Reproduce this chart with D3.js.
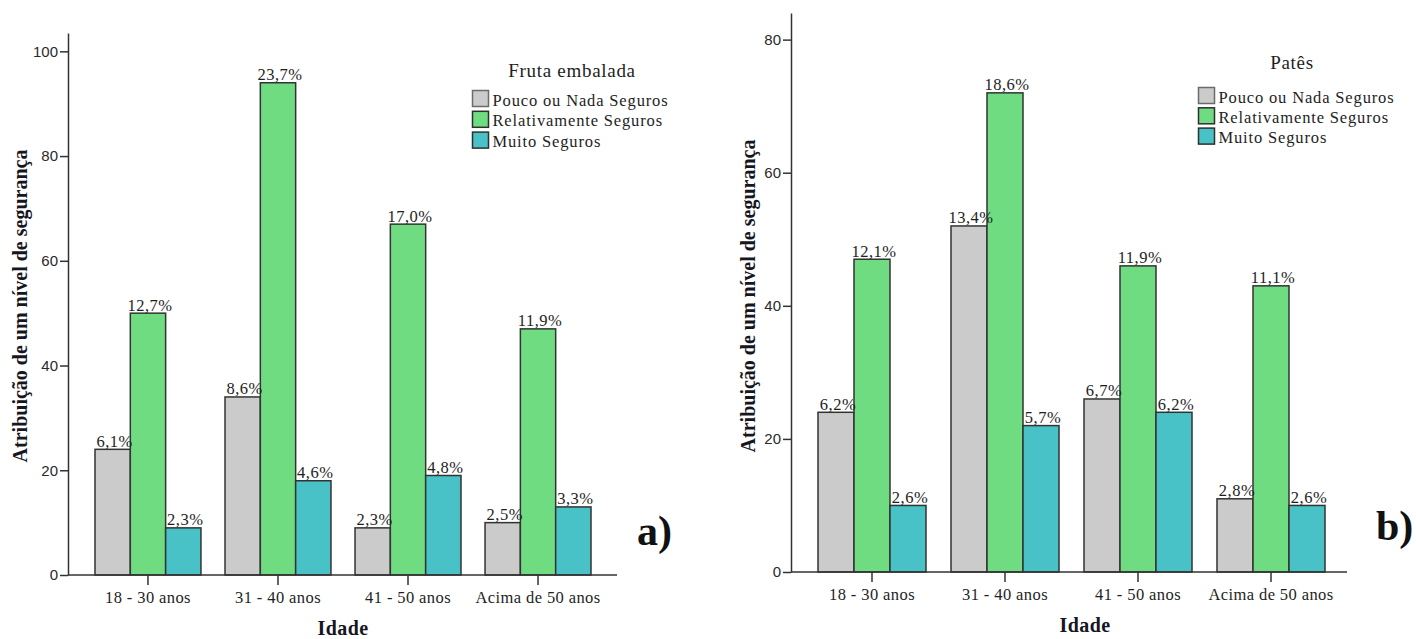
<!DOCTYPE html>
<html>
<head>
<meta charset="utf-8">
<script src="https://cdn.jsdelivr.net/npm/d3@7"></script>
<style>
  html, body { margin: 0; padding: 0; background: #fff; }
  svg { display: block; }
  .tick text { font-family: "Liberation Sans", Arial, sans-serif; }
</style>
</head>
<body>
<svg id="chart" width="1416" height="639"></svg>
<script>
// Age groups and safety levels shared by both panels
const ageGroups = ["18 - 30 anos", "31 - 40 anos", "41 - 50 anos", "Acima de 50 anos"];
const safetyLevels = ["Pouco ou Nada Seguros", "Relativamente Seguros", "Muito Seguros"];
const levelColors = ["#cbcbcb", "#6fdc81", "#48c2c6"];
const swatchStrokes = ["#6b6b6b", "#2f2f2f", "#2f2f2f"];

// Panel a) Fruta embalada: counts per age group
const frutaPouco = [24, 34, 9, 10];
const frutaRelativamente = [50, 94, 67, 47];
const frutaMuito = [9, 18, 19, 13];
const frutaPercentPouco = ["6,1%", "8,6%", "2,3%", "2,5%"];
const frutaPercentRelativamente = ["12,7%", "23,7%", "17,0%", "11,9%"];
const frutaPercentMuito = ["2,3%", "4,6%", "4,8%", "3,3%"];
const frutaTicks = [0, 20, 40, 60, 80, 100];

// Panel b) Patês: counts per age group
const patesPouco = [24, 52, 26, 11];
const patesRelativamente = [47, 72, 46, 43];
const patesMuito = [10, 22, 24, 10];
const patesPercentPouco = ["6,2%", "13,4%", "6,7%", "2,8%"];
const patesPercentRelativamente = ["12,1%", "18,6%", "11,9%", "11,1%"];
const patesPercentMuito = ["2,6%", "5,7%", "6,2%", "2,6%"];
const patesTicks = [0, 20, 40, 60, 80];

const yTitle = "Atribuição de um nível de segurança";
const xTitle = "Idade";

const svg = d3.select("#chart");
const serif = "'Liberation Serif', 'Times New Roman', serif";

function drawPanel(cfg) {
  const g = svg.append("g");
  const series = [cfg.pouco, cfg.relativamente, cfg.muito];
  const labels = [cfg.pctPouco, cfg.pctRelativamente, cfg.pctMuito];

  const y = d3.scaleLinear().domain([0, cfg.yMax]).range([cfg.yBottom, cfg.yTop]);
  const x0 = d3.scaleBand().domain(ageGroups).range(cfg.groupRange).paddingInner(cfg.padInner).paddingOuter(0);
  const x1 = d3.scaleBand().domain(safetyLevels).range([0, x0.bandwidth()]).padding(0);

  // bars
  const rows = ageGroups.map((a, i) => ({ age: a, i }));
  const grp = g.selectAll("g.age").data(rows).join("g")
    .attr("class", "age")
    .attr("transform", d => `translate(${x0(d.age)},0)`);

  grp.selectAll("rect").data(d => safetyLevels.map((s, k) => ({ s, k, v: series[k][d.i] })))
    .join("rect")
    .attr("x", d => x1(d.s))
    .attr("width", x1.bandwidth())
    .attr("y", d => y(d.v))
    .attr("height", d => y(0) - y(d.v))
    .attr("fill", d => levelColors[d.k])
    .attr("stroke", "#333")
    .attr("stroke-width", 1.5);

  grp.selectAll("text.pct").data(d => safetyLevels.map((s, k) => ({ s, k, v: series[k][d.i], t: labels[k][d.i] })))
    .join("text")
    .attr("class", "pct")
    .attr("x", d => x1(d.s) + x1.bandwidth() / 2 + 2)
    .attr("y", d => y(d.v) - 2.5)
    .attr("text-anchor", "middle")
    .style("font-family", serif)
    .style("font-size", "16.5px")
    .style("letter-spacing", "0.5px")
    .attr("fill", "#1e1e1e")
    .text(d => d.t);

  // y axis
  const yAxis = d3.axisLeft(y).tickValues(cfg.ticks).tickSize(8).tickPadding(2).tickSizeOuter(0);
  const ya = g.append("g").attr("transform", `translate(${cfg.plotLeft},0)`).call(yAxis);
  ya.select(".domain").attr("stroke", "#333").attr("stroke-width", 1.5);
  ya.selectAll(".tick line").attr("stroke", "#333").attr("stroke-width", 1.5);
  ya.selectAll(".tick text").style("font-size", "15px").attr("fill", "#2a2a2a");

  // x axis (baseline spans the full plot width)
  const xa = g.append("g").attr("transform", `translate(0,${y(0)})`)
    .call(d3.axisBottom(x0).tickSize(10).tickPadding(6).tickSizeOuter(0));
  xa.select(".domain").attr("d", `M${cfg.plotLeft},0H${cfg.plotRight}`)
    .attr("stroke", "#333").attr("stroke-width", 1.5);
  xa.selectAll(".tick line").attr("stroke", "#333").attr("stroke-width", 1.5);
  xa.selectAll(".tick text")
    .style("font-family", serif)
    .style("font-size", "16.5px")
    .style("letter-spacing", "0.4px")
    .attr("fill", "#1e1e1e");

  // axis titles
  g.append("text")
    .attr("transform", `translate(${cfg.yTitleX},${cfg.yTitleY}) rotate(-90)`)
    .attr("text-anchor", "middle")
    .style("font-family", serif).style("font-weight", "bold").style("font-size", "20px")
    .attr("fill", "#161622")
    .text(yTitle);
  g.append("text")
    .attr("x", cfg.xTitleX).attr("y", cfg.xTitleY)
    .attr("text-anchor", "middle")
    .style("font-family", serif).style("font-weight", "bold").style("font-size", "20px")
    .style("letter-spacing", "0.4px")
    .attr("fill", "#161622")
    .text(xTitle);

  // legend
  const lg = g.append("g");
  lg.append("text")
    .attr("x", cfg.legendTitleX).attr("y", cfg.legendTitleY)
    .attr("text-anchor", "middle")
    .style("font-family", serif).style("font-size", "19px")
    .style("letter-spacing", "0.7px")
    .attr("fill", "#1e1e1e")
    .text(cfg.title);
  const items = lg.selectAll("g.item").data(safetyLevels).join("g")
    .attr("class", "item")
    .attr("transform", (d, k) => `translate(${cfg.legendX},${cfg.legendY + k * cfg.legendStep})`);
  items.append("rect")
    .attr("width", 16).attr("height", 16)
    .attr("fill", (d, k) => levelColors[k])
    .attr("stroke", (d, k) => swatchStrokes[k])
    .attr("stroke-width", 1.5);
  items.append("text")
    .attr("x", 20).attr("y", 15)
    .style("font-family", serif).style("font-size", "16.5px")
    .style("letter-spacing", "0.85px")
    .attr("fill", "#1e1e1e")
    .text(d => d);

  // panel letter
  g.append("text")
    .attr("x", cfg.letterX).attr("y", cfg.letterY)
    .style("font-family", serif).style("font-weight", "bold").style("font-size", "42px")
    .attr("fill", "#111")
    .text(cfg.letter);
}

drawPanel({
  title: "Fruta embalada", letter: "a)",
  pouco: frutaPouco, relativamente: frutaRelativamente, muito: frutaMuito,
  pctPouco: frutaPercentPouco, pctRelativamente: frutaPercentRelativamente, pctMuito: frutaPercentMuito,
  ticks: frutaTicks, yMax: 103.5, yBottom: 575, yTop: 33,
  plotLeft: 68, plotRight: 617, groupRange: [95, 591], padInner: 0.185,
  yTitleX: 27, yTitleY: 306, xTitleX: 343, xTitleY: 635,
  legendTitleX: 572, legendTitleY: 77, legendX: 472.5, legendY: 90.5, legendStep: 20.8,
  letterX: 637, letterY: 545
});

drawPanel({
  title: "Patês", letter: "b)",
  pouco: patesPouco, relativamente: patesRelativamente, muito: patesMuito,
  pctPouco: patesPercentPouco, pctRelativamente: patesPercentRelativamente, pctMuito: patesPercentMuito,
  ticks: patesTicks, yMax: 84, yBottom: 572, yTop: 13,
  plotLeft: 791, plotRight: 1347, groupRange: [818, 1325], padInner: 0.188,
  yTitleX: 755, yTitleY: 296, xTitleX: 1085, xTitleY: 632,
  legendTitleX: 1292, legendTitleY: 69, legendX: 1198.5, legendY: 87.5, legendStep: 20.3,
  letterX: 1376, letterY: 540
});
</script>
</body>
</html>
